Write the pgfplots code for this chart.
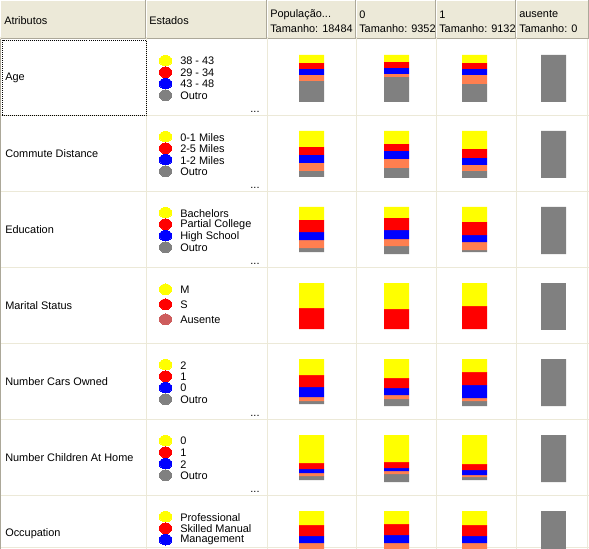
\documentclass[border=0pt]{standalone}
\usepackage{fontspec}
\setmainfont{Liberation Sans}
\usepackage{pgfplots}
\usepackage{pgfplotstable}
\pgfplotsset{compat=1.18}

\definecolor{hdr}{HTML}{ECE9D8}
\definecolor{hdrdark}{HTML}{ACA899}
\definecolor{gridc}{HTML}{ECE9D8}
\definecolor{segY}{HTML}{FFFF00}
\definecolor{segR}{HTML}{FF0000}
\definecolor{segB}{HTML}{0000FF}
\definecolor{segC}{HTML}{FF7F50}
\definecolor{segG}{HTML}{808080}
\definecolor{segA}{HTML}{CD5C5C}

% one table per attribute row: bar centre x (px), gap above the bar, then the
% heights (px) of yellow, red, blue, coral and grey (Outro) segments
\pgfplotstableread{
x     sp y  r  b  c  g
311.5 55 8  6  6  6  21
396.5 55 7  6  6  3  25
474.5 55 8  6  6  9  18
553.5 55 0  0  0  0  47
}\rowage
\pgfplotstableread{
x     sp y  r  b  c  g
311.5 29 16 8  8  8  6
396.5 29 13 7  8  9  10
474.5 29 18 9  7  6  7
553.5 29 0  0  0  0  47
}\rowcommute
\pgfplotstableread{
x     sp y  r  b  c  g
311.5 30 13 12 8  8  4
396.5 29 11 12 9  7  8
474.5 29 15 13 7  8  2
553.5 29 0  0  0  0  47
}\roweducation
\pgfplotstableread{
x     sp y  r  b  c  g
311.5 31 25 21 0  0  0
396.5 29 26 20 0  0  0
474.5 31 23 23 0  0  0
553.5 29 0  0  0  0  47
}\rowmarital
\pgfplotstableread{
x     sp y  r  b  c  g
311.5 30 16 12 10 4  3
396.5 30 19 10 7  4  7
474.5 30 13 13 13 3  5
553.5 29 0  0  0  0  47
}\rowcars
\pgfplotstableread{
x     sp y  r  b  c  g
311.5 31 28 6  4  3  4
396.5 29 27 6  3  3  8
474.5 29 29 6  5  2  3
553.5 29 0  0  0  0  47
}\rowchildren
\pgfplotstableread{
x     sp y  r  b  c  g
311.5 31 14 11 7  20 0
396.5 29 13 11 8  20 0
474.5 31 14 11 7  20 0
553.5 29 0  0  0  0  47
}\rowoccupation

\newcommand\plotrow[1]{%
  \addplot[draw=none, fill=none] table[x=x, y=sp] {#1};
  \addplot[draw=none, fill=segY] table[x=x, y=y] {#1};
  \addplot[draw=none, fill=segR] table[x=x, y=r] {#1};
  \addplot[draw=none, fill=segB] table[x=x, y=b] {#1};
  \addplot[draw=none, fill=segC] table[x=x, y=c] {#1};
  \addplot[draw=none, fill=segG] table[x=x, y=g] {#1};
}

\pgfplotsset{frame/.style={
  scale only axis, width=441.75pt, height=411.75pt,
  xmin=0, xmax=589, ymin=0, ymax=549, y dir=reverse,
  hide axis, clip marker paths=true},
  dot/.style={only marks, mark=*, mark size=4pt, color=#1,
    mark options={xscale=1.17, draw=#1, fill=#1, line width=0pt}}}

\begin{document}
\begin{tikzpicture}
\begin{scope}[x=0.75pt, y=-0.75pt, yshift=411.75pt,
  every node/.style={inner sep=0pt, font=\fontsize{8.2}{9.8}\selectfont}]
  \fill[white] (0,0) rectangle (589,549);
  % body grid
  \foreach \yy in {116,192,268,344,420,496,548}
    \draw[gridc, line width=0.75pt] (0,\yy) -- (589,\yy);
  \foreach \xx in {146.5,267.5,356.5,436.5,516.5,587.5}
    \draw[gridc, line width=0.75pt] (\xx,39) -- (\xx,549);
  \draw[hdrdark, line width=0.75pt] (0.5,0) -- (0.5,549);
  % header
  \fill[hdr] (0,0) rectangle (589,39);
  \foreach \a/\b in {0/146,146/267,267/356,356/436,436/516,516/589} {
    \draw[white, line width=0.75pt] (\a+0.5,37) -- (\a+0.5,0.5) -- (\b-1,0.5);
    \draw[hdrdark, line width=0.75pt] (\a+1,38.5) -- (\b-0.5,38.5) -- (\b-0.5,0.5);
  }
  \node[anchor=west] at (4,21) {Atributos};
  \node[anchor=west] at (149,21) {Estados};
  \node[anchor=west] at (270,14.5) {População...};
  \node[anchor=west] at (270,28.5) {Tamanho: 18484};
  \node[anchor=west] at (359,14.5) {0};
  \node[anchor=west] at (359,28.5) {Tamanho: 9352};
  \node[anchor=west] at (439,14.5) {1};
  \node[anchor=west] at (439,28.5) {Tamanho: 9132};
  \node[anchor=west] at (519,14.5) {ausente};
  \node[anchor=west] at (519,28.5) {Tamanho: 0};
  % focus rectangle on the first cell
  \draw[black, line width=0.75pt, dash pattern=on 0.75pt off 0.75pt]
    (2.5,40.5) rectangle (146,115.5);
  % attribute names
  \node[anchor=west] at (5,78) {Age};
  \node[anchor=west] at (5,154) {Commute Distance};
  \node[anchor=west] at (5,230) {Education};
  \node[anchor=west] at (5,306) {Marital Status};
  \node[anchor=west] at (5,382) {Number Cars Owned};
  \node[anchor=west] at (5,458) {Number Children At Home};
  \node[anchor=west] at (5,534) {Occupation};
  % state names
  \foreach \t/\s in {40/{38 - 43, 29 - 34, 43 - 48, Outro},
                     116/{0-1 Miles, 2-5 Miles, 1-2 Miles, Outro},
                     192/{Bachelors, Partial College, High School, Outro},
                     344/{2, 1, 0, Outro},
                     420/{0, 1, 2, Outro}} {
    \foreach \lab [count=\i from 0] in \s
      \node[anchor=west] at (180,\t+21.2+11.5*\i) {\lab};
    \node[anchor=base] at (255,\t+73) {...};
  }
  \node[anchor=west] at (180,289.8) {M};
  \node[anchor=west] at (180,304.8) {S};
  \node[anchor=west] at (180,319.8) {Ausente};
  \node[anchor=west] at (180,517.2) {Professional};
  \node[anchor=west] at (180,528.7) {Skilled Manual};
  \node[anchor=west] at (180,540.2) {Management};
\end{scope}

% legend dots of the Estados column
\begin{axis}[frame]
  \addplot[dot=segY] coordinates {
    (165.5,60.7) (165.5,136.7) (165.5,212.7) (165.5,289.3)
    (165.5,364.7) (165.5,440.7) (165.5,516.7)};
  \addplot[dot=segR] coordinates {
    (165.5,72.2) (165.5,148.2) (165.5,224.2) (165.5,304.3)
    (165.5,376.2) (165.5,452.2) (165.5,528.2)};
  \addplot[dot=segB] coordinates {
    (165.5,83.7) (165.5,159.7) (165.5,235.7)
    (165.5,387.7) (165.5,463.7) (165.5,539.7)};
  \addplot[dot=segG] coordinates {
    (165.5,95.2) (165.5,171.2) (165.5,247.2)
    (165.5,399.2) (165.5,475.2) (165.5,551.2)};
  \addplot[dot=segA] coordinates {(165.5,319.3)};
\end{axis}

% stacked profile bars, one stack per column running down all rows
\begin{axis}[frame, ybar stacked, bar width=25]
  \plotrow{\rowage}
  \plotrow{\rowcommute}
  \plotrow{\roweducation}
  \plotrow{\rowmarital}
  \plotrow{\rowcars}
  \plotrow{\rowchildren}
  \plotrow{\rowoccupation}
\end{axis}

\pgfresetboundingbox
\useasboundingbox (0,0) rectangle (441.75pt,411.75pt);
\end{tikzpicture}
\end{document}
